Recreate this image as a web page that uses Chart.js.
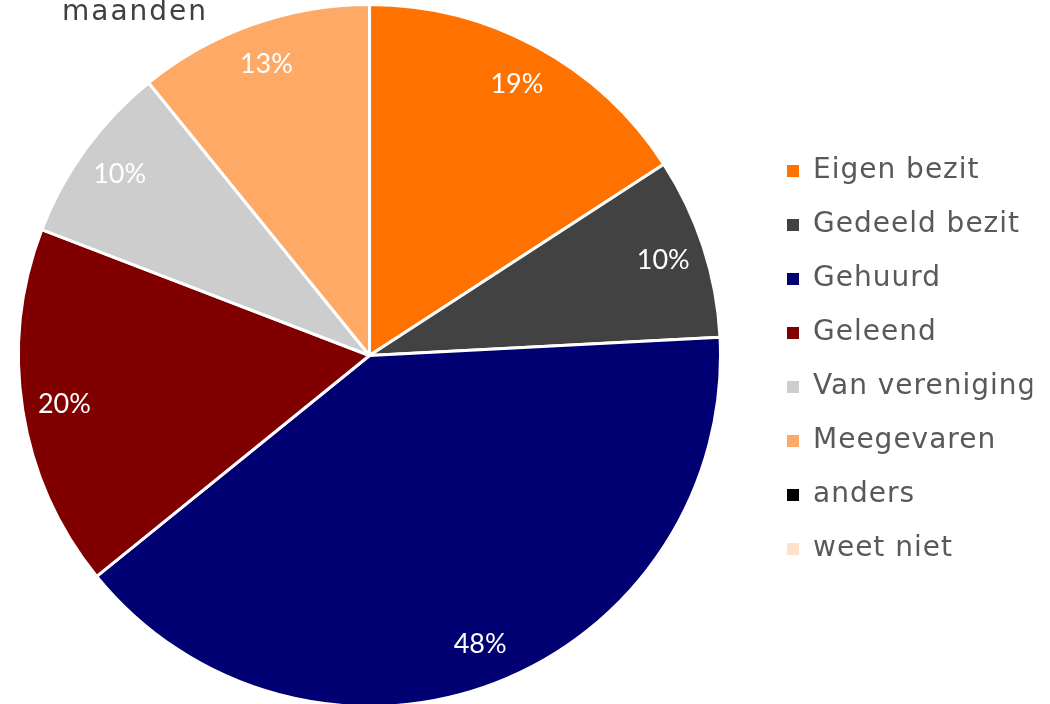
<!DOCTYPE html>
<html>
<head>
<meta charset="utf-8">
<script src="https://cdn.jsdelivr.net/npm/chart.js@4"></script>
<style>
  html, body { margin: 0; padding: 0; background: #fff; overflow: hidden; }
  #wrap { width: 1050px; height: 704px; position: relative; }
</style>
</head>
<body>
<div id="wrap"><canvas id="chart"></canvas></div>
<script>
const categories = ["Eigen bezit", "Gedeeld bezit", "Gehuurd", "Geleend", "Van vereniging", "Meegevaren", "anders", "weet niet"];
const percentages = [19, 10, 48, 20, 10, 13, 0, 0];
const sliceColors = ["#FF7200", "#424242", "#000073", "#800000", "#CDCDCD", "#FFA966", "#000000", "#FFE0CC"];
const titleLine = "maanden";

// square plot area on the left, legend pushed out to the right
const pieFrame = {
  id: "pieFrame",
  afterLayout(chart) {
    const a = chart.chartArea;
    a.left = 17;
    a.top = 3;
    a.width = 705;
    a.height = 705;
    a.right = a.left + a.width;
    a.bottom = a.top + a.height;
    const lg = chart.legend;
    const w = lg.width;
    lg.left = 761;
    lg.right = lg.left + w;
    lg.top += 8;
    lg.bottom += 8;
  },
  beforeDraw(chart) {
    // wider tracking for the legend text
    chart.ctx.letterSpacing = "1px";
  },
};

const sliceLabels = {
  id: "sliceLabels",
  afterDatasetsDraw(chart) {
    const ctx = chart.ctx;
    const meta = chart.getDatasetMeta(0);
    ctx.save();
    ctx.letterSpacing = "0px";
    ctx.font = "27px Lato";
    ctx.fillStyle = "#ffffff";
    ctx.textAlign = "center";
    ctx.textBaseline = "middle";
    meta.data.forEach((arc, i) => {
      const v = percentages[i];
      if (!v) return;
      const p = arc.getProps(["x", "y", "startAngle", "endAngle", "outerRadius"], true);
      const mid = (p.startAngle + p.endAngle) / 2;
      const r = p.outerRadius * 0.88;
      ctx.fillText(v + "%", p.x + Math.cos(mid) * r, p.y + Math.sin(mid) * r);
    });
    ctx.restore();
  },
};

const titleTail = {
  id: "titleTail",
  afterDraw(chart) {
    const ctx = chart.ctx;
    ctx.save();
    ctx.letterSpacing = "2px";
    ctx.font = "28px 'DejaVu Sans'";
    ctx.fillStyle = "#404040";
    ctx.textAlign = "left";
    ctx.textBaseline = "alphabetic";
    ctx.fillText(titleLine, 62, 20);
    ctx.restore();
  },
};

new Chart(document.getElementById("chart").getContext("2d"), {
  type: "pie",
  data: {
    labels: categories,
    datasets: [
      {
        data: percentages,
        backgroundColor: sliceColors,
        borderColor: "#ffffff",
        borderWidth: 3,
      },
    ],
  },
  options: {
    responsive: true,
    maintainAspectRatio: false,
    animation: false,
    plugins: {
      legend: {
        position: "right",
        labels: {
          boxWidth: 12,
          boxHeight: 12,
          padding: 26,
          color: "#595959",
          font: { family: "'DejaVu Sans'", size: 28 },
          generateLabels(chart) {
            return Chart.controllers.pie.overrides.plugins.legend.labels
              .generateLabels(chart)
              .map((item) => ({ ...item, lineWidth: 0, hidden: false }));
          },
        },
      },
      tooltip: { enabled: false },
    },
  },
  plugins: [pieFrame, sliceLabels, titleTail],
});
</script>
</body>
</html>
